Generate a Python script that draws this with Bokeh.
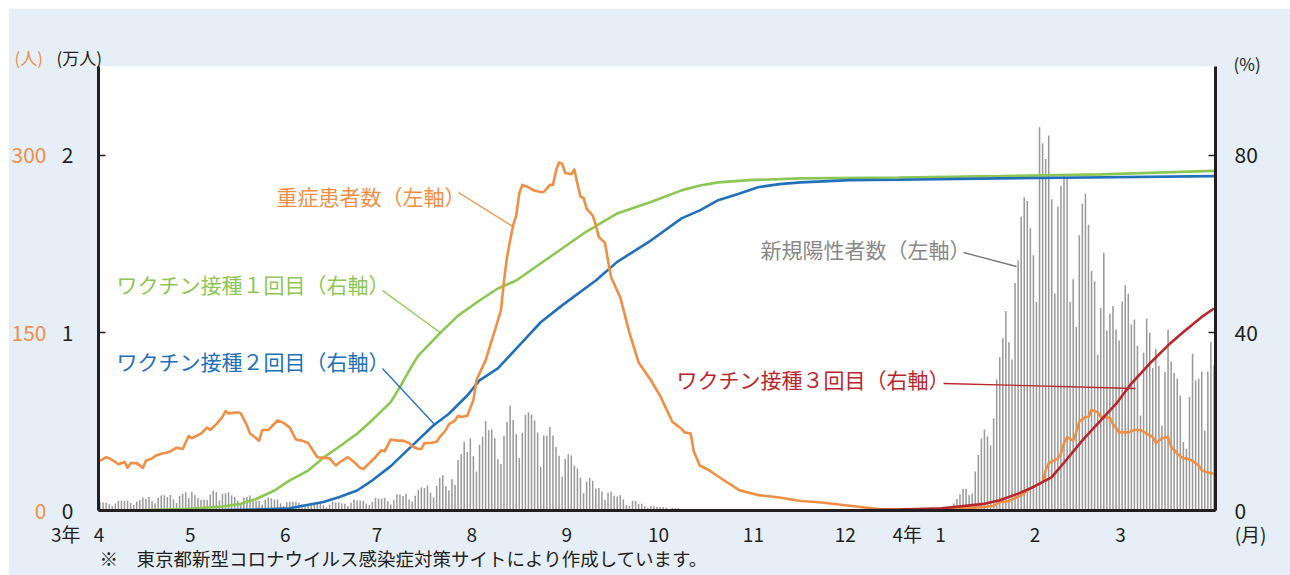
import pandas as pd
from bokeh.plotting import figure
from bokeh.models import Range1d, LinearAxis, FixedTicker, Label, Spacer
from bokeh.layouts import row, column
from bokeh.embed import file_html
from bokeh.resources import INLINE

# ---------------- data ----------------
START = pd.Timestamp("2021-04-01")

# daily new positives (people), Tokyo, Apr 2021 - Mar 2022
pos_apr = [475, 446, 440, 355, 249, 399, 555, 545, 537, 570, 421, 306, 510, 591, 729, 667, 759, 543, 405, 711,
           843, 861, 759, 876, 635, 425, 828, 925, 1027, 698]
pos_may = [1050, 879, 708, 609, 621, 591, 907, 1121, 1032, 573, 925, 969, 1010, 854, 772, 542, 419, 732, 766, 843,
           614, 539, 535, 340, 620, 743, 684, 614, 620, 405, 260]
pos_jun = [471, 487, 508, 472, 436, 351, 235, 369, 440, 439, 435, 467, 304, 209, 337, 501, 452, 453, 388, 376,
           236, 435, 619, 570, 562, 534, 386, 317, 476, 714]
pos_jul = [673, 660, 716, 518, 342, 593, 920, 896, 822, 950, 614, 502, 830, 1149, 1308, 1271, 1410, 1008, 727, 1387,
           1832, 1979, 1359, 1128, 1763, 1429, 2848, 3177, 3865, 3300, 4058]
pos_aug = [3058, 2195, 3709, 4166, 5042, 4515, 4566, 4066, 2884, 2612, 4200, 4989, 5908, 5094, 4295, 2962, 4377, 5386,
           5534, 5405, 5074, 4392, 2447, 4220, 4228, 4704, 4227, 3581, 3081, 1915, 2909]
pos_sep = [3168, 3099, 2539, 2362, 1853, 968, 1629, 1834, 1675, 1242, 1273, 1067, 611, 1004, 1052, 831, 782, 862,
           627, 302, 253, 537, 531, 380, 383, 234, 154, 248, 267, 218]
pos_oct = [200, 196, 161, 87, 149, 144, 138, 82, 66, 60, 49, 77, 72, 62, 69, 66, 40, 29, 36, 41, 36, 26, 32, 19, 17,
           29, 36, 21, 29, 22, 22]
pos_nov = [9, 18, 28, 17, 25, 21, 16, 6, 24, 20, 26, 24, 27, 20, 10, 18, 24, 30, 19, 26, 15, 6, 13, 21, 9, 18, 22,
           11, 12, 14]
pos_dec = [11, 20, 13, 15, 16, 7, 13, 12, 20, 16, 27, 9, 9, 14, 22, 24, 20, 20, 11, 12, 21, 21, 37, 34, 42, 37, 36,
           46, 76, 64, 78]
pos_jan = [79, 84, 103, 151, 390, 641, 922, 1224, 1223, 871, 962, 2198, 3124, 4051, 4561, 4172, 3662, 5185, 7377,
           8638, 9699, 11227, 9468, 8503, 12813, 14086, 16538, 17631, 17433, 15895, 14367]
pos_feb = [11738, 21576, 20679, 19798, 21121, 17526, 12214, 17113, 18287, 18891, 18660, 11738, 13015, 10329, 15494,
           17278, 17841, 16094, 13484, 12902, 8770, 11399, 14517, 10141, 11080, 11512, 10198, 9578]
pos_mar = [11775, 12677, 12207, 10479, 10761, 9259, 5352, 8883, 10799, 10010, 8019, 9108, 8132, 4789, 7794, 10198,
           8395, 7737, 7418, 6479, 3850, 3474, 6385, 8827, 7324, 7418, 7831, 4507, 7831, 9484, 8169]

# severe patients (people)
severe_dates = ["2021-04-01", "2021-04-03", "2021-04-04", "2021-04-06", "2021-04-07", "2021-04-09", "2021-04-10",
                "2021-04-11", "2021-04-13", "2021-04-15", "2021-04-16", "2021-04-18", "2021-04-19", "2021-04-21",
                "2021-04-23", "2021-04-24", "2021-04-26", "2021-04-28", "2021-04-30", "2021-05-01", "2021-05-04",
                "2021-05-06", "2021-05-07", "2021-05-09", "2021-05-11", "2021-05-12", "2021-05-13", "2021-05-16",
                "2021-05-17", "2021-05-19", "2021-05-20", "2021-05-23", "2021-05-24", "2021-05-26", "2021-05-29",
                "2021-05-31", "2021-06-02", "2021-06-04", "2021-06-06", "2021-06-08", "2021-06-10", "2021-06-11",
                "2021-06-15", "2021-06-17", "2021-06-19", "2021-06-21", "2021-06-23", "2021-06-25", "2021-06-26",
                "2021-06-28", "2021-06-30", "2021-07-02", "2021-07-03", "2021-07-05", "2021-07-07", "2021-07-09",
                "2021-07-11", "2021-07-12", "2021-07-14", "2021-07-15", "2021-07-16", "2021-07-18", "2021-07-20",
                "2021-07-21", "2021-07-23", "2021-07-24", "2021-07-26", "2021-07-27", "2021-07-28", "2021-07-30",
                "2021-08-01", "2021-08-02", "2021-08-05", "2021-08-08", "2021-08-10", "2021-08-11", "2021-08-12",
                "2021-08-13", "2021-08-14", "2021-08-15", "2021-08-16", "2021-08-17", "2021-08-19", "2021-08-21",
                "2021-08-23", "2021-08-24", "2021-08-26", "2021-08-27", "2021-08-28", "2021-08-29", "2021-08-30",
                "2021-08-31", "2021-09-02", "2021-09-03", "2021-09-04", "2021-09-05", "2021-09-06", "2021-09-07",
                "2021-09-09", "2021-09-10", "2021-09-11", "2021-09-13", "2021-09-14", "2021-09-15", "2021-09-18",
                "2021-09-21", "2021-09-24", "2021-09-28", "2021-10-01", "2021-10-03", "2021-10-05", "2021-10-08",
                "2021-10-09", "2021-10-11", "2021-10-12", "2021-10-14", "2021-10-17", "2021-10-21", "2021-10-27",
                "2021-11-02", "2021-11-09", "2021-11-16", "2021-11-22", "2021-12-02", "2021-12-12", "2021-12-25",
                "2022-01-04", "2022-01-09", "2022-01-15", "2022-01-18", "2022-01-20", "2022-01-23", "2022-01-27",
                "2022-01-29", "2022-01-31", "2022-02-03", "2022-02-04", "2022-02-05", "2022-02-08", "2022-02-09",
                "2022-02-10", "2022-02-11", "2022-02-13", "2022-02-14", "2022-02-15", "2022-02-17", "2022-02-18",
                "2022-02-19", "2022-02-21", "2022-02-22", "2022-02-23", "2022-02-25", "2022-02-26", "2022-02-28",
                "2022-03-03", "2022-03-05", "2022-03-07", "2022-03-09", "2022-03-11", "2022-03-12", "2022-03-14",
                "2022-03-16", "2022-03-17", "2022-03-19", "2022-03-21", "2022-03-22", "2022-03-24", "2022-03-26",
                "2022-03-27", "2022-03-29", "2022-03-31"]
severe_values = [42, 45, 44, 41, 39, 41, 36, 40, 40, 36, 42, 44, 46, 48, 49, 50, 53, 52, 63, 61, 65,
                 70, 68, 73, 79, 84, 82, 83, 82, 72, 65, 59, 68, 68, 76, 74, 70, 60, 59, 57, 49, 45,
                 44, 38, 42, 45, 41, 36, 35, 40, 45, 51, 50, 60, 59, 59, 57, 54, 52, 52, 57, 57, 58,
                 62, 68, 73, 76, 80, 79, 80, 93, 110, 127, 152, 169, 194, 214, 228, 241, 249, 268, 275,
                 273, 270, 269, 269, 275, 275, 287, 294, 293, 285, 284, 288, 276, 265, 264, 255, 249, 241,
                 231, 226, 211, 197, 180, 150, 125, 110, 97, 86, 75, 69, 66, 65, 50, 38, 34, 27, 17,
                 13, 11, 8, 7, 4, 1, 1, 1, 2, 3, 4, 7, 8, 13, 17, 20, 24, 34, 40, 44, 48, 57, 62, 59,
                 66, 75, 79, 79, 85, 83, 79, 79, 78, 73, 66, 66, 68, 68, 65, 62, 57, 61, 62, 54, 48,
                 44, 44, 42, 38, 34, 32, 31]

# vaccination rates (%)
vac1_dates = ["2021-04-12", "2021-04-30", "2021-05-11", "2021-05-17", "2021-05-22", "2021-05-28", "2021-06-02",
              "2021-06-08", "2021-06-13", "2021-06-18", "2021-06-24", "2021-06-29", "2021-07-05", "2021-07-08",
              "2021-07-11", "2021-07-14", "2021-07-21", "2021-07-27", "2021-08-03", "2021-08-09", "2021-08-15",
              "2021-08-26", "2021-09-06", "2021-09-17", "2021-09-28", "2021-10-08", "2021-10-14", "2021-10-20",
              "2021-10-30", "2021-11-16", "2021-12-18", "2022-01-20", "2022-02-22", "2022-03-31"]
vac1_values = [0, 0.4, 0.9, 1.5, 2.6, 4.5, 6.8, 9.0, 11.9, 14.3, 17.3, 20.4, 24.4, 27.8, 31.5, 34.9, 39.9, 43.9,
               47.3, 50.0, 51.8, 57.1, 62.4, 66.9, 69.5, 72.1, 73.2, 73.9, 74.4, 74.8, 75.0, 75.3, 75.7, 76.5]

vac2_dates = ["2021-05-03", "2021-05-22", "2021-06-02", "2021-06-13", "2021-06-18", "2021-06-24", "2021-06-29",
              "2021-07-05", "2021-07-12", "2021-07-19", "2021-07-24", "2021-07-30", "2021-08-03", "2021-08-09",
              "2021-08-16", "2021-08-23", "2021-08-30", "2021-09-10", "2021-09-17", "2021-09-28", "2021-10-08",
              "2021-10-14", "2021-10-20", "2021-10-27", "2021-11-02", "2021-11-09", "2021-11-16", "2021-12-02",
              "2021-12-18", "2022-01-20", "2022-03-31"]
vac2_values = [0, 0.2, 0.5, 1.9, 3.0, 4.5, 6.8, 10.0, 14.6, 19.2, 21.8, 25.9, 29.3, 32.0, 37.2, 42.4, 46.2,
               51.8, 56.0, 60.8, 65.8, 67.6, 69.9, 71.4, 72.8, 73.5, 73.9, 74.4, 74.5, 74.8, 75.3]

vac3_dates = ["2021-12-01", "2021-12-18", "2022-01-01", "2022-01-15", "2022-01-20", "2022-01-26", "2022-01-31",
              "2022-02-06", "2022-02-11", "2022-02-16", "2022-02-22", "2022-02-27", "2022-03-04", "2022-03-10",
              "2022-03-16", "2022-03-21", "2022-03-27", "2022-03-31"]
vac3_values = [0, 0.2, 0.5, 1.5, 2.3, 3.8, 5.3, 7.5, 11.6, 15.8, 20.3, 24.0, 28.6, 33.1, 37.2, 40.2, 43.6, 45.5]

month_starts = ["2021-04-01", "2021-05-01", "2021-06-01", "2021-07-01", "2021-08-01", "2021-09-01", "2021-10-01",
                "2021-11-01", "2021-12-01", "2022-01-01", "2022-02-01", "2022-03-01"]
month_labels = ["4", "5", "6", "7", "8", "9", "10", "11", "12", "1", "2", "3"]
year_labels = {"2021-04-01": "3年", "2022-01-01": "4年"}
month_unit = "(月)"

left_ticks = [0, 1, 2]                      # 万人
left_tick_labels = ["0", "1", "2"]
severe_ticks = [0, 150, 300]                # 人
right_ticks = [0, 40, 80]                   # %

# ---------------- styles ----------------
BG = "#e6eef7"
ORANGE = "#ef8f45"
GREEN = "#8cc653"
BLUE = "#2170b8"
RED = "#b8272d"
GRAY = "#9a9a9a"
DARK = "#231f20"
FONT = "Noto Sans CJK JP"

W, H = 1282, 567
FL, FR, FT, FB = 90, 1207, 58, 502   # frame edges in figure px (page = figure + 8)
NDAYS = (pd.Timestamp("2022-04-01") - START).days
YMAX = 2.5
PXD = (FR - FL) / NDAYS
PYU = (FB - FT) / YMAX


def day_of(d):
    return (pd.Timestamp(d) - START).days + 0.5


def dx(page_x):
    return (page_x - 8 - FL) / PXD


def dy(page_y):
    return (FB - (page_y - 8)) / PYU


p = figure(width=W, height=H, x_range=Range1d(0, NDAYS), y_range=Range1d(0, YMAX),
           output_backend="svg", toolbar_location=None,
           min_border_left=FL, min_border_right=W - FR, min_border_top=FT, min_border_bottom=H - FB,
           background_fill_color="white", border_fill_color=BG, outline_line_color=None)
p.extra_y_ranges = {"sev": Range1d(0, 375), "pct": Range1d(0, 100)}
p.xgrid.visible = False
p.ygrid.visible = False

# bars: new positives (万人)
pos_all = pos_apr + pos_may + pos_jun + pos_jul + pos_aug + pos_sep + pos_oct + pos_nov + pos_dec + pos_jan + pos_feb + pos_mar
bar_x = [i + 0.5 for i in range(len(pos_all))]
p.vbar(x=bar_x, top=[v / 10000 for v in pos_all], width=0.5, color=GRAY, line_color=None)

# vaccination lines
p.line([day_of(d) for d in vac1_dates], vac1_values, y_range_name="pct", color=GREEN, line_width=2.6)
p.line([day_of(d) for d in vac2_dates], vac2_values, y_range_name="pct", color=BLUE, line_width=2.6)
# severe patients
p.line([day_of(d) for d in severe_dates], severe_values, y_range_name="sev", color=ORANGE, line_width=2.6,
       line_join="round")
p.line([day_of(d) for d in vac3_dates], vac3_values, y_range_name="pct", color=RED, line_width=2.6)


def style_axis(a, size):
    a.axis_line_width = 3
    a.axis_line_color = DARK
    a.major_tick_line_width = 1.5
    a.major_tick_line_color = DARK
    a.minor_tick_line_color = None
    a.major_label_text_font = FONT
    a.major_label_text_font_size = size
    a.major_label_text_color = DARK


# left axis: 万人
ax = p.yaxis[0]
style_axis(ax, "21px")
ax.ticker = FixedTicker(ticks=left_ticks)
ax.major_label_overrides = {t: l for t, l in zip(left_ticks, left_tick_labels)}
ax.major_tick_in = 7
ax.major_tick_out = 0
ax.major_label_standoff = 25

# second left axis: severe patients (人), orange labels
sax = LinearAxis(y_range_name="sev", ticker=FixedTicker(ticks=severe_ticks))
style_axis(sax, "21px")
sax.axis_line_color = None
sax.major_tick_line_color = None
sax.major_tick_in = 0
sax.major_tick_out = 0
sax.major_label_standoff = 12
sax.major_label_text_color = ORANGE
p.add_layout(sax, "left")

# right axis: %
rax = LinearAxis(y_range_name="pct", ticker=FixedTicker(ticks=right_ticks))
style_axis(rax, "21px")
rax.major_tick_in = 7
rax.major_tick_out = 0
rax.major_label_standoff = 19
p.add_layout(rax, "right")

# bottom axis: months (year prefix and unit kept on the same label row)
bx = p.xaxis[0]
style_axis(bx, "19px")
mticks = [(pd.Timestamp(d) - START).days for d in month_starts]
overrides = {}
for d, t, l in zip(month_starts, mticks, month_labels):
    if d in year_labels:
        overrides[t] = year_labels[d] + "\u2002\u2009" + l + "\u3000\u3000\u2009"
    else:
        overrides[t] = l
end_tick = NDAYS - 0.01
overrides[end_tick] = "\u3000\u3000\u3000\u2002\u2009" + month_unit
bx.ticker = FixedTicker(ticks=mticks + [end_tick])
bx.major_label_overrides = overrides
bx.major_tick_line_color = None
bx.major_label_standoff = 3


def label(text, px, py, color, size="21px", align="left", panel=None):
    lab = Label(x=dx(px), y=dy(py), text=text, text_color=color, text_font=FONT,
                text_font_size=size, text_align=align, text_baseline="middle")
    if panel is None:
        p.add_layout(lab)
    else:
        p.add_layout(lab, panel)


# unit labels and source note (kept in side panels so they are not clipped to the frame)
label("(人)", 14, 57, ORANGE, "17px", panel="above")
label("(万人)", 56, 57, DARK, "17px", panel="above")
label("(%)", 1233, 63, DARK, "17px", panel="right")
label("※　東京都新型コロナウイルス感染症対策サイトにより作成しています。", 99, 557, DARK, "18.5px", panel="below")

# series labels + leader lines
label("重症患者数（左軸）", 276, 195, ORANGE)
label("ワクチン接種１回目（右軸）", 116, 283, GREEN)
label("ワクチン接種２回目（右軸）", 116, 360, BLUE)
label("新規陽性者数（左軸）", 760, 248, "#888888")
label("ワクチン接種３回目（右軸）", 676, 378, RED)

leaders = [((458, 192), (514, 227), ORANGE), ((382, 290), (441, 333), GREEN), ((382, 368), (435, 425), BLUE),
           ((963, 252), (1016, 266), "#777777"), ((943, 383), (1135, 388), RED)]
for (x0, y0), (x1, y1), c in leaders:
    p.line([dx(x0), dx(x1)], [dy(y0), dy(y1)], color=c, line_width=1.3)

layout = column(Spacer(height=8), row(Spacer(width=8), p))
open("out.html", "w").write(file_html(layout, INLINE))
